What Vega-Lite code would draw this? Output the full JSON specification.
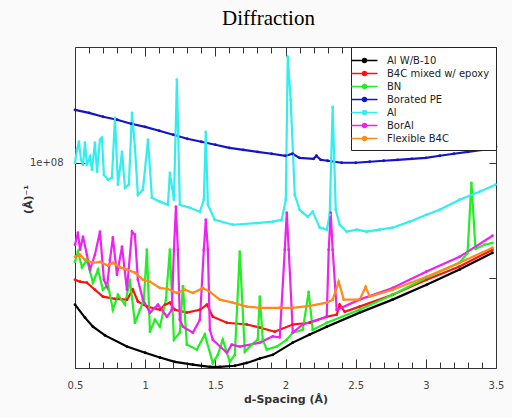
{
  "$schema": "https://vega.github.io/schema/vega-lite/v6.json",
  "width": 421,
  "height": 321,
  "autosize": {"type": "none"},
  "padding": {"left": 75, "top": 47, "right": 16, "bottom": 50},
  "background": "#fafafa",
  "title": {"text": "Diffraction", "font": "Liberation Serif", "fontSize": 21, "fontWeight": "normal", "color": "#000", "offset": 18, "dx": -17},
  "config": {
    "view": {"stroke": "#333", "strokeWidth": 1, "fill": "white"},
    "axis": {"labelFont": "DejaVu Sans", "labelFontSize": 10, "labelColor": "#444", "titleFont": "DejaVu Sans", "titleFontSize": 11, "titleFontWeight": "bold", "titleColor": "#333", "grid": false, "domain": false, "tickColor": "#333"},
    "legend": {"labelFont": "DejaVu Sans", "labelFontSize": 10, "labelColor": "#222"}
  },
  "data": {"values": [
    {"s":"Al W/B-10","d":0.5,"v":0.425e8},{"s":"Al W/B-10","d":0.571,"v":0.393e8},{"s":"Al W/B-10","d":0.628,"v":0.372e8},{"s":"Al W/B-10","d":0.714,"v":0.353e8},{"s":"Al W/B-10","d":0.870,"v":0.330e8},{"s":"Al W/B-10","d":1.0,"v":0.318e8},{"s":"Al W/B-10","d":1.105,"v":0.309e8},{"s":"Al W/B-10","d":1.212,"v":0.301e8},{"s":"Al W/B-10","d":1.340,"v":0.296e8},{"s":"Al W/B-10","d":1.461,"v":0.292e8},{"s":"Al W/B-10","d":1.532,"v":0.292e8},{"s":"Al W/B-10","d":1.639,"v":0.294e8},{"s":"Al W/B-10","d":1.724,"v":0.299e8},{"s":"Al W/B-10","d":1.817,"v":0.307e8},{"s":"Al W/B-10","d":1.909,"v":0.314e8},{"s":"Al W/B-10","d":2.052,"v":0.338e8},{"s":"Al W/B-10","d":2.173,"v":0.355e8},{"s":"Al W/B-10","d":2.294,"v":0.372e8},{"s":"Al W/B-10","d":2.528,"v":0.405e8},{"s":"Al W/B-10","d":2.763,"v":0.438e8},{"s":"Al W/B-10","d":3.005,"v":0.479e8},{"s":"Al W/B-10","d":3.240,"v":0.525e8},{"s":"Al W/B-10","d":3.475,"v":0.581e8},

    {"s":"B4C mixed w/ epoxy","d":0.5,"v":0.494e8},{"s":"B4C mixed w/ epoxy","d":0.536,"v":0.488e8},{"s":"B4C mixed w/ epoxy","d":0.585,"v":0.485e8},{"s":"B4C mixed w/ epoxy","d":0.642,"v":0.465e8},{"s":"B4C mixed w/ epoxy","d":0.699,"v":0.446e8},{"s":"B4C mixed w/ epoxy","d":0.785,"v":0.440e8},{"s":"B4C mixed w/ epoxy","d":0.870,"v":0.438e8},{"s":"B4C mixed w/ epoxy","d":0.913,"v":0.465e8},{"s":"B4C mixed w/ epoxy","d":0.948,"v":0.433e8},{"s":"B4C mixed w/ epoxy","d":1.012,"v":0.420e8},{"s":"B4C mixed w/ epoxy","d":1.105,"v":0.412e8},{"s":"B4C mixed w/ epoxy","d":1.141,"v":0.425e8},{"s":"B4C mixed w/ epoxy","d":1.176,"v":0.430e8},{"s":"B4C mixed w/ epoxy","d":1.212,"v":0.412e8},{"s":"B4C mixed w/ epoxy","d":1.297,"v":0.405e8},{"s":"B4C mixed w/ epoxy","d":1.390,"v":0.412e8},{"s":"B4C mixed w/ epoxy","d":1.440,"v":0.425e8},{"s":"B4C mixed w/ epoxy","d":1.482,"v":0.395e8},{"s":"B4C mixed w/ epoxy","d":1.582,"v":0.381e8},{"s":"B4C mixed w/ epoxy","d":1.724,"v":0.377e8},{"s":"B4C mixed w/ epoxy","d":1.817,"v":0.370e8},{"s":"B4C mixed w/ epoxy","d":1.923,"v":0.361e8},{"s":"B4C mixed w/ epoxy","d":2.052,"v":0.377e8},{"s":"B4C mixed w/ epoxy","d":2.173,"v":0.381e8},{"s":"B4C mixed w/ epoxy","d":2.294,"v":0.395e8},{"s":"B4C mixed w/ epoxy","d":2.365,"v":0.400e8},{"s":"B4C mixed w/ epoxy","d":2.386,"v":0.425e8},{"s":"B4C mixed w/ epoxy","d":2.422,"v":0.407e8},{"s":"B4C mixed w/ epoxy","d":2.528,"v":0.420e8},{"s":"B4C mixed w/ epoxy","d":2.763,"v":0.451e8},{"s":"B4C mixed w/ epoxy","d":3.005,"v":0.494e8},{"s":"B4C mixed w/ epoxy","d":3.240,"v":0.535e8},{"s":"B4C mixed w/ epoxy","d":3.475,"v":0.592e8},

    {"s":"BN","d":0.5,"v":0.550e8},{"s":"BN","d":0.521,"v":0.585e8},{"s":"BN","d":0.550,"v":0.532e8},{"s":"BN","d":0.585,"v":0.557e8},{"s":"BN","d":0.628,"v":0.485e8},{"s":"BN","d":0.664,"v":0.525e8},{"s":"BN","d":0.699,"v":0.465e8},{"s":"BN","d":0.735,"v":0.479e8},{"s":"BN","d":0.770,"v":0.412e8},{"s":"BN","d":0.806,"v":0.451e8},{"s":"BN","d":0.856,"v":0.425e8},{"s":"BN","d":0.891,"v":0.494e8},{"s":"BN","d":0.927,"v":0.381e8},{"s":"BN","d":0.963,"v":0.412e8},{"s":"BN","d":0.991,"v":0.438e8},{"s":"BN","d":1.012,"v":0.592e8},{"s":"BN","d":1.034,"v":0.361e8},{"s":"BN","d":1.069,"v":0.388e8},{"s":"BN","d":1.105,"v":0.372e8},{"s":"BN","d":1.148,"v":0.438e8},{"s":"BN","d":1.176,"v":0.592e8},{"s":"BN","d":1.205,"v":0.344e8},{"s":"BN","d":1.247,"v":0.359e8},{"s":"BN","d":1.269,"v":0.475e8},{"s":"BN","d":1.297,"v":0.334e8},{"s":"BN","d":1.368,"v":0.324e8},{"s":"BN","d":1.425,"v":0.355e8},{"s":"BN","d":1.482,"v":0.299e8},{"s":"BN","d":1.518,"v":0.314e8},{"s":"BN","d":1.553,"v":0.344e8},{"s":"BN","d":1.603,"v":0.301e8},{"s":"BN","d":1.639,"v":0.314e8},{"s":"BN","d":1.674,"v":0.585e8},{"s":"BN","d":1.710,"v":0.320e8},{"s":"BN","d":1.760,"v":0.334e8},{"s":"BN","d":1.802,"v":0.344e8},{"s":"BN","d":1.817,"v":0.446e8},{"s":"BN","d":1.838,"v":0.344e8},{"s":"BN","d":1.867,"v":0.324e8},{"s":"BN","d":1.938,"v":0.330e8},{"s":"BN","d":2.009,"v":0.344e8},{"s":"BN","d":2.052,"v":0.359e8},{"s":"BN","d":2.123,"v":0.365e8},{"s":"BN","d":2.165,"v":0.459e8},{"s":"BN","d":2.194,"v":0.365e8},{"s":"BN","d":2.294,"v":0.381e8},{"s":"BN","d":2.528,"v":0.412e8},{"s":"BN","d":2.763,"v":0.451e8},{"s":"BN","d":3.005,"v":0.500e8},{"s":"BN","d":3.240,"v":0.547e8},{"s":"BN","d":3.297,"v":0.580e8},{"s":"BN","d":3.325,"v":0.885e8},{"s":"BN","d":3.354,"v":0.595e8},{"s":"BN","d":3.418,"v":0.610e8},{"s":"BN","d":3.475,"v":0.617e8},

    {"s":"Borated PE","d":0.5,"v":1.376e8},{"s":"Borated PE","d":0.6,"v":1.351e8},{"s":"Borated PE","d":0.7,"v":1.320e8},{"s":"Borated PE","d":0.8,"v":1.296e8},{"s":"Borated PE","d":0.9,"v":1.265e8},{"s":"Borated PE","d":1.0,"v":1.242e8},{"s":"Borated PE","d":1.1,"v":1.213e8},{"s":"Borated PE","d":1.2,"v":1.184e8},{"s":"Borated PE","d":1.3,"v":1.156e8},{"s":"Borated PE","d":1.4,"v":1.135e8},{"s":"Borated PE","d":1.5,"v":1.115e8},{"s":"Borated PE","d":1.6,"v":1.094e8},{"s":"Borated PE","d":1.7,"v":1.081e8},{"s":"Borated PE","d":1.8,"v":1.068e8},{"s":"Borated PE","d":1.9,"v":1.056e8},{"s":"Borated PE","d":2.0,"v":1.043e8},{"s":"Borated PE","d":2.05,"v":1.056e8},{"s":"Borated PE","d":2.1,"v":1.030e8},{"s":"Borated PE","d":2.2,"v":1.024e8},{"s":"Borated PE","d":2.22,"v":1.043e8},{"s":"Borated PE","d":2.25,"v":1.018e8},{"s":"Borated PE","d":2.3,"v":1.012e8},{"s":"Borated PE","d":2.4,"v":1.0e8},{"s":"Borated PE","d":2.5,"v":1.0e8},{"s":"Borated PE","d":2.6,"v":1.006e8},{"s":"Borated PE","d":2.7,"v":1.012e8},{"s":"Borated PE","d":2.8,"v":1.018e8},{"s":"Borated PE","d":2.9,"v":1.024e8},{"s":"Borated PE","d":3.0,"v":1.030e8},{"s":"Borated PE","d":3.1,"v":1.043e8},{"s":"Borated PE","d":3.2,"v":1.056e8},{"s":"Borated PE","d":3.3,"v":1.068e8},{"s":"Borated PE","d":3.4,"v":1.081e8},{"s":"Borated PE","d":3.5,"v":1.101e8},

    {"s":"Al","d":0.5,"v":1.0e8},{"s":"Al","d":0.514,"v":1.081e8},{"s":"Al","d":0.528,"v":1.135e8},{"s":"Al","d":0.543,"v":1.018e8},{"s":"Al","d":0.557,"v":0.988e8},{"s":"Al","d":0.571,"v":1.128e8},{"s":"Al","d":0.585,"v":0.988e8},{"s":"Al","d":0.607,"v":1.037e8},{"s":"Al","d":0.621,"v":0.959e8},{"s":"Al","d":0.642,"v":1.128e8},{"s":"Al","d":0.657,"v":0.947e8},{"s":"Al","d":0.678,"v":1.149e8},{"s":"Al","d":0.692,"v":1.163e8},{"s":"Al","d":0.706,"v":0.930e8},{"s":"Al","d":0.735,"v":0.903e8},{"s":"Al","d":0.763,"v":0.914e8},{"s":"Al","d":0.785,"v":1.311e8},{"s":"Al","d":0.806,"v":0.876e8},{"s":"Al","d":0.835,"v":1.068e8},{"s":"Al","d":0.856,"v":0.860e8},{"s":"Al","d":0.884,"v":0.876e8},{"s":"Al","d":0.906,"v":1.351e8},{"s":"Al","d":0.927,"v":1.101e8},{"s":"Al","d":0.948,"v":0.824e8},{"s":"Al","d":0.984,"v":0.850e8},{"s":"Al","d":1.020,"v":1.149e8},{"s":"Al","d":1.048,"v":0.810e8},{"s":"Al","d":1.105,"v":0.791e8},{"s":"Al","d":1.162,"v":0.776e8},{"s":"Al","d":1.176,"v":0.941e8},{"s":"Al","d":1.205,"v":0.800e8},{"s":"Al","d":1.226,"v":1.650e8},{"s":"Al","d":1.247,"v":0.776e8},{"s":"Al","d":1.319,"v":0.762e8},{"s":"Al","d":1.390,"v":0.744e8},{"s":"Al","d":1.418,"v":0.800e8},{"s":"Al","d":1.432,"v":1.205e8},{"s":"Al","d":1.447,"v":0.776e8},{"s":"Al","d":1.496,"v":0.709e8},{"s":"Al","d":1.625,"v":0.688e8},{"s":"Al","d":1.795,"v":0.695e8},{"s":"Al","d":1.909,"v":0.701e8},{"s":"Al","d":1.973,"v":0.709e8},{"s":"Al","d":2.002,"v":0.800e8},{"s":"Al","d":2.016,"v":1.895e8},{"s":"Al","d":2.037,"v":1.462e8},{"s":"Al","d":2.066,"v":0.824e8},{"s":"Al","d":2.101,"v":0.753e8},{"s":"Al","d":2.123,"v":0.740e8},{"s":"Al","d":2.158,"v":0.722e8},{"s":"Al","d":2.194,"v":0.744e8},{"s":"Al","d":2.244,"v":0.676e8},{"s":"Al","d":2.294,"v":0.668e8},{"s":"Al","d":2.315,"v":0.731e8},{"s":"Al","d":2.336,"v":1.401e8},{"s":"Al","d":2.358,"v":0.753e8},{"s":"Al","d":2.386,"v":0.688e8},{"s":"Al","d":2.436,"v":0.660e8},{"s":"Al","d":2.507,"v":0.668e8},{"s":"Al","d":2.578,"v":0.660e8},{"s":"Al","d":2.671,"v":0.668e8},{"s":"Al","d":2.763,"v":0.676e8},{"s":"Al","d":2.884,"v":0.701e8},{"s":"Al","d":3.005,"v":0.731e8},{"s":"Al","d":3.098,"v":0.753e8},{"s":"Al","d":3.240,"v":0.800e8},{"s":"Al","d":3.383,"v":0.840e8},{"s":"Al","d":3.496,"v":0.876e8},

    {"s":"BorAl","d":0.5,"v":0.610e8},{"s":"BorAl","d":0.521,"v":0.656e8},{"s":"BorAl","d":0.536,"v":0.592e8},{"s":"BorAl","d":0.557,"v":0.640e8},{"s":"BorAl","d":0.585,"v":0.574e8},{"s":"BorAl","d":0.607,"v":0.525e8},{"s":"BorAl","d":0.642,"v":0.574e8},{"s":"BorAl","d":0.678,"v":0.660e8},{"s":"BorAl","d":0.706,"v":0.494e8},{"s":"BorAl","d":0.728,"v":0.473e8},{"s":"BorAl","d":0.749,"v":0.557e8},{"s":"BorAl","d":0.770,"v":0.637e8},{"s":"BorAl","d":0.799,"v":0.509e8},{"s":"BorAl","d":0.835,"v":0.603e8},{"s":"BorAl","d":0.870,"v":0.465e8},{"s":"BorAl","d":0.906,"v":0.660e8},{"s":"BorAl","d":0.927,"v":0.648e8},{"s":"BorAl","d":0.948,"v":0.494e8},{"s":"BorAl","d":0.984,"v":0.438e8},{"s":"BorAl","d":1.034,"v":0.405e8},{"s":"BorAl","d":1.091,"v":0.425e8},{"s":"BorAl","d":1.155,"v":0.395e8},{"s":"BorAl","d":1.190,"v":0.412e8},{"s":"BorAl","d":1.205,"v":0.592e8},{"s":"BorAl","d":1.219,"v":0.767e8},{"s":"BorAl","d":1.233,"v":0.592e8},{"s":"BorAl","d":1.247,"v":0.388e8},{"s":"BorAl","d":1.269,"v":0.372e8},{"s":"BorAl","d":1.340,"v":0.359e8},{"s":"BorAl","d":1.390,"v":0.388e8},{"s":"BorAl","d":1.418,"v":0.592e8},{"s":"BorAl","d":1.432,"v":0.709e8},{"s":"BorAl","d":1.447,"v":0.592e8},{"s":"BorAl","d":1.461,"v":0.365e8},{"s":"BorAl","d":1.482,"v":0.344e8},{"s":"BorAl","d":1.582,"v":0.318e8},{"s":"BorAl","d":1.617,"v":0.334e8},{"s":"BorAl","d":1.674,"v":0.330e8},{"s":"BorAl","d":1.817,"v":0.338e8},{"s":"BorAl","d":1.909,"v":0.351e8},{"s":"BorAl","d":1.959,"v":0.349e8},{"s":"BorAl","d":1.995,"v":0.592e8},{"s":"BorAl","d":2.009,"v":0.740e8},{"s":"BorAl","d":2.023,"v":0.592e8},{"s":"BorAl","d":2.052,"v":0.359e8},{"s":"BorAl","d":2.123,"v":0.377e8},{"s":"BorAl","d":2.294,"v":0.395e8},{"s":"BorAl","d":2.308,"v":0.592e8},{"s":"BorAl","d":2.322,"v":0.740e8},{"s":"BorAl","d":2.336,"v":0.592e8},{"s":"BorAl","d":2.365,"v":0.412e8},{"s":"BorAl","d":2.528,"v":0.438e8},{"s":"BorAl","d":2.763,"v":0.470e8},{"s":"BorAl","d":3.005,"v":0.519e8},{"s":"BorAl","d":3.240,"v":0.567e8},{"s":"BorAl","d":3.475,"v":0.644e8},

    {"s":"Flexible B4C","d":0.5,"v":0.567e8},{"s":"Flexible B4C","d":0.536,"v":0.574e8},{"s":"Flexible B4C","d":0.571,"v":0.557e8},{"s":"Flexible B4C","d":0.628,"v":0.547e8},{"s":"Flexible B4C","d":0.678,"v":0.550e8},{"s":"Flexible B4C","d":0.735,"v":0.538e8},{"s":"Flexible B4C","d":0.770,"v":0.547e8},{"s":"Flexible B4C","d":0.820,"v":0.532e8},{"s":"Flexible B4C","d":0.870,"v":0.525e8},{"s":"Flexible B4C","d":0.927,"v":0.515e8},{"s":"Flexible B4C","d":0.984,"v":0.494e8},{"s":"Flexible B4C","d":1.034,"v":0.488e8},{"s":"Flexible B4C","d":1.105,"v":0.470e8},{"s":"Flexible B4C","d":1.162,"v":0.467e8},{"s":"Flexible B4C","d":1.226,"v":0.456e8},{"s":"Flexible B4C","d":1.283,"v":0.465e8},{"s":"Flexible B4C","d":1.340,"v":0.456e8},{"s":"Flexible B4C","d":1.411,"v":0.470e8},{"s":"Flexible B4C","d":1.461,"v":0.459e8},{"s":"Flexible B4C","d":1.532,"v":0.438e8},{"s":"Flexible B4C","d":1.625,"v":0.430e8},{"s":"Flexible B4C","d":1.724,"v":0.420e8},{"s":"Flexible B4C","d":1.817,"v":0.417e8},{"s":"Flexible B4C","d":1.959,"v":0.417e8},{"s":"Flexible B4C","d":2.052,"v":0.417e8},{"s":"Flexible B4C","d":2.173,"v":0.422e8},{"s":"Flexible B4C","d":2.294,"v":0.430e8},{"s":"Flexible B4C","d":2.336,"v":0.438e8},{"s":"Flexible B4C","d":2.379,"v":0.488e8},{"s":"Flexible B4C","d":2.415,"v":0.438e8},{"s":"Flexible B4C","d":2.528,"v":0.438e8},{"s":"Flexible B4C","d":2.571,"v":0.473e8},{"s":"Flexible B4C","d":2.600,"v":0.446e8},{"s":"Flexible B4C","d":2.763,"v":0.465e8},{"s":"Flexible B4C","d":3.005,"v":0.503e8},{"s":"Flexible B4C","d":3.240,"v":0.547e8},{"s":"Flexible B4C","d":3.475,"v":0.599e8}
  ]},
  "resolve": {"axis": {"x": "independent", "y": "independent"}},
  "layer": [
    {
      "mark": {"type": "line", "opacity": 0},
      "encoding": {
        "x": {"field": "d", "type": "quantitative", "scale": {"domain": [0.5, 3.5], "nice": false, "zero": false},
          "axis": {"orient": "bottom", "values": [0.6,0.7,0.8,0.9,1.1,1.2,1.3,1.4,1.6,1.7,1.8,1.9,2.1,2.2,2.3,2.4,2.6,2.7,2.8,2.9,3.1,3.2,3.3,3.4], "labels": false, "title": null, "tickSize": -6}},
        "y": {"field": "v", "type": "quantitative", "scale": {"type": "log", "domain": [2.9e7, 2.01e8], "nice": false},
          "axis": {"orient": "right", "values": [5e7, 1e8], "labels": false, "title": null, "tickSize": -7}}
      }
    },
    {
      "mark": {"type": "line", "opacity": 0},
      "encoding": {
        "x": {"field": "d", "type": "quantitative",
          "axis": {"orient": "top", "values": [0.6,0.7,0.8,0.9,1.1,1.2,1.3,1.4,1.6,1.7,1.8,1.9,2.1,2.2,2.3,2.4,2.6,2.7,2.8,2.9,3.1,3.2,3.3,3.4], "labels": false, "title": null, "tickSize": -6}},
        "y": {"field": "v", "type": "quantitative", "axis": null}
      }
    },
    {
      "mark": {"type": "line", "opacity": 0},
      "encoding": {
        "x": {"field": "d", "type": "quantitative",
          "axis": {"orient": "top", "values": [1, 1.5, 2, 2.5, 3], "labels": false, "title": null, "tickSize": -9}},
        "y": {"field": "v", "type": "quantitative", "axis": null}
      }
    },
    {
      "mark": {"type": "line", "strokeWidth": 2.2, "point": {"filled": true, "size": 8}},
      "encoding": {
        "x": {"field": "d", "type": "quantitative",
          "axis": {"orient": "bottom", "values": [0.5, 1, 1.5, 2, 2.5, 3, 3.5], "labelExpr": "datum.value == 0.5 ? '0.5' : datum.value == 1 ? '1' : datum.value == 1.5 ? '1.5' : datum.value == 2 ? '2' : datum.value == 2.5 ? '2.5' : datum.value == 3 ? '3' : '3.5'", "tickSize": -9, "labelPadding": 21, "title": "d-Spacing (Å)", "titlePadding": 3, "labelFlush": false}},
        "y": {"field": "v", "type": "quantitative",
          "axis": {"orient": "left", "values": [1e8], "labelExpr": "'1e+08'", "tickSize": -10, "labelPadding": 22, "title": "(Å)⁻¹", "titleX": -42, "titleY": 152}},
        "color": {"field": "s", "type": "nominal", "sort": null,
          "scale": {"domain": ["Al W/B-10", "B4C mixed w/ epoxy", "BN", "Borated PE", "Al", "BorAl", "Flexible B4C"],
            "range": ["#000000", "#ff1010", "#22ee22", "#1414c8", "#33eeee", "#ee22ee", "#ff8a1a"]},
          "legend": {"title": null, "orient": "top-right", "offset": 0, "fillColor": "white", "strokeColor": "#222", "padding": 6, "symbolType": "M-2,0H2M-0.3,0A0.3,0.3 0 1,1 0.3,0A0.3,0.3 0 1,1 -0.3,0", "symbolSize": 169, "symbolStrokeWidth": 1.5, "rowPadding": 0, "labelOffset": 15, "labelFontSize": 10}}
      }
    }
  ]
}
